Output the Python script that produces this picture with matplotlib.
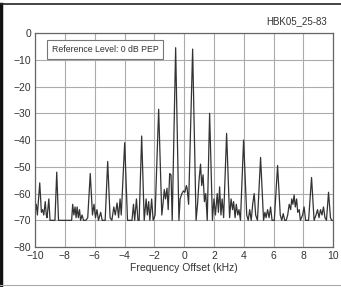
import matplotlib
matplotlib.use("Agg")
import matplotlib.pyplot as plt
from matplotlib.lines import Line2D

plt.rcParams['font.family'] = ['Liberation Sans', 'DejaVu Sans']

# spectrum trace (kHz, dB)
freq = [-10.0, -9.92, -9.85, -9.69, -9.58, -9.5, -9.42, -9.32, -9.25, -9.2, -9.08, -9.0,
        -8.9, -8.67, -8.55, -8.43, -7.55, -7.48, -7.4, -7.32, -7.25, -7.18, -7.1, -7.02,
        -6.95, -6.85, -6.75, -6.6, -6.47, -6.3, -6.15, -6.05, -5.95, -5.85, -5.75, -5.6,
        -5.5, -5.3, -5.13, -4.97, -4.85, -4.72, -4.62, -4.5, -4.4, -4.3, -4.22, -3.99,
        -3.8, -3.5, -3.4, -3.32, -3.2, -3.1, -3.02, -2.85, -2.68, -2.55, -2.47, -2.38,
        -2.3, -2.18, -2.08, -1.95, -1.71, -1.5, -1.42, -1.33, -1.25, -1.15, -1.07, -0.97,
        -0.88, -0.8, -0.57, -0.35, -0.27, -0.15, -0.05, 0.05, 0.15, 0.2, 0.3, 0.57,
        0.8, 0.9, 1.0, 1.1, 1.18, 1.27, 1.36, 1.45, 1.55, 1.71, 1.9, 2.0,
        2.1, 2.22, 2.3, 2.38, 2.47, 2.55, 2.65, 2.85, 3.05, 3.15, 3.25, 3.32,
        3.42, 3.5, 3.6, 3.68, 3.78, 3.99, 4.2, 4.3, 4.4, 4.5, 4.6, 4.7,
        4.8, 4.92, 5.13, 5.33, 5.42, 5.5, 5.6, 5.7, 5.8, 5.9, 6.05, 6.27,
        6.45, 6.55, 6.65, 6.75, 6.85, 6.95, 7.05, 7.15, 7.22, 7.3, 7.38, 7.46,
        7.55, 7.62, 7.72, 7.8, 7.95, 8.05, 8.15, 8.35, 8.55, 8.72, 8.85, 8.95,
        9.05, 9.15, 9.25, 9.35, 9.45, 9.55, 9.69, 9.82, 9.9, 10.0]
level = [-67, -64, -68, -56, -67, -66, -68, -63, -68, -69, -62, -70,
         -70, -70, -52, -70, -70, -64, -68, -65, -69, -65, -69, -66,
         -70, -68, -70, -70, -69, -52.5, -68, -64, -69, -66, -70, -67,
         -70, -70, -48, -69, -70, -65, -68, -63.5, -69, -62, -68, -41,
         -70, -70, -64, -70, -62, -70, -70, -38.5, -70, -62, -68, -63,
         -70, -62, -70, -68, -28.5, -68, -64, -58.5, -62, -58, -66, -52.5,
         -53, -70, -5.5, -70, -62, -60, -59, -59.5, -57, -58, -64, -6,
         -70, -64, -55, -49, -57, -53, -63, -60, -70, -30, -70, -62,
         -68, -60, -67, -57.5, -68, -62, -69, -37.5, -69, -62, -66, -63,
         -69, -64, -68, -66, -70, -40, -68, -70, -66, -70, -64, -60,
         -68, -70, -46.5, -70, -67, -69, -66, -69, -65, -70, -70, -49.5,
         -68, -70, -67.5, -70, -70, -68, -64, -66, -62, -64, -60.5, -65,
         -62, -67, -66, -70, -68, -65, -70, -70, -54, -70, -68, -66,
         -69, -66, -68, -65, -69, -70, -59.5, -69, -70, -70]

x_ticks = [-10, -8, -6, -4, -2, 0, 2, 4, 6, 8, 10]
y_ticks = [0, -10, -20, -30, -40, -50, -60, -70, -80]

fig = plt.figure(figsize=(3.41, 2.87), dpi=100)
ax = fig.add_axes([0.103, 0.139, 0.874, 0.746])

ax.plot(freq, level, color='#333333', linewidth=0.9)

ax.set_xlim(-10, 10)
ax.set_ylim(-80, 0)
ax.set_xticks(x_ticks)
ax.set_yticks(y_ticks)
ax.set_xticklabels([str(t).replace('-', '\u2212') for t in x_ticks])
ax.set_yticklabels([str(t).replace('-', '\u2212') for t in y_ticks])
ax.tick_params(length=0, labelsize=7.5, colors='#333333', pad=3)
ax.grid(True, color='#ababab', linewidth=0.8)
ax.set_axisbelow(True)
for s in ax.spines.values():
    s.set_color('#666666')
    s.set_linewidth(0.9)

ax.set_xlabel('Frequency Offset (kHz)', fontsize=7.5, color='#333333', labelpad=1)

ax.text(0.055, 0.945, 'Reference Level: 0 dB PEP', transform=ax.transAxes,
        fontsize=6.3, color='#333333', ha='left', va='top',
        bbox=dict(boxstyle='square,pad=0.55', facecolor='white', edgecolor='#777777', linewidth=0.8))

fig.text(0.958, 0.925, 'HBK05_25-83', fontsize=7, color='#333333', ha='right', va='center')

# frame around the figure
fig.add_artist(Line2D([0.004, 0.004], [0.0, 0.987], transform=fig.transFigure, color='#111111', linewidth=2.5))
fig.add_artist(Line2D([0.0, 1.0], [0.987, 0.987], transform=fig.transFigure, color='#222222', linewidth=1.2))
fig.add_artist(Line2D([0.0, 1.0], [0.007, 0.007], transform=fig.transFigure, color='#aaaaaa', linewidth=0.8))

fig.savefig('out.png', dpi=100)
